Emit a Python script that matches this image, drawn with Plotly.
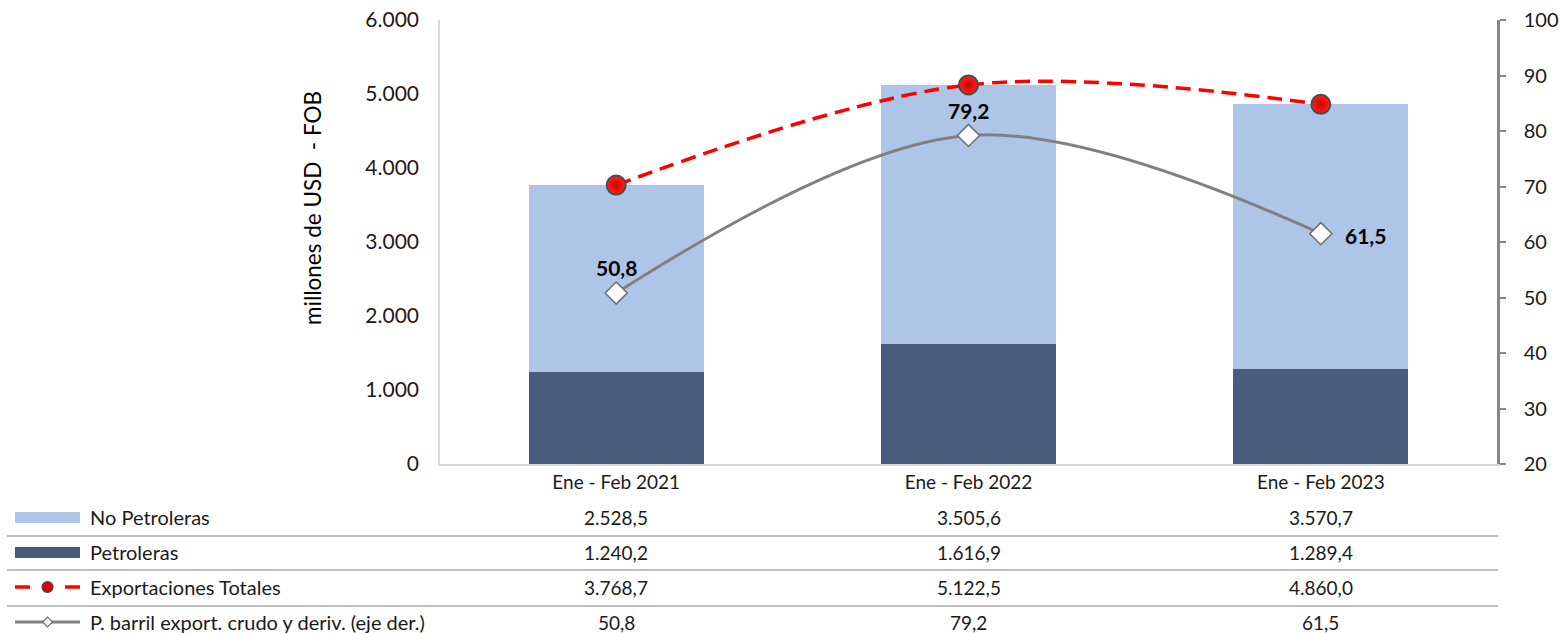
import plotly.graph_objects as go

# ---------------- data ----------------
categories = ["Ene - Feb 2021", "Ene - Feb 2022", "Ene - Feb 2023"]
no_petroleras = [2528.5, 3505.6, 3570.7]
petroleras = [1240.2, 1616.9, 1289.4]
exportaciones_totales = [3768.7, 5122.5, 4860.0]
precio_barril = [50.8, 79.2, 61.5]

series_names = ["No Petroleras", "Petroleras", "Exportaciones Totales",
                "P. barril export. crudo y deriv. (eje der.)"]
left_ticks = [0, 1000, 2000, 3000, 4000, 5000, 6000]
right_ticks = [20, 30, 40, 50, 60, 70, 80, 90, 100]

# ---------------- style ----------------
FONT = "Lato"
C_LIGHT = "#ADC6E7"
C_DARK = "#485D7B"
C_RED = "#FF0000"
C_GRAY = "#808080"
TXT = "#1a1a1a"

W, H = 1560, 633
L, R, T, B = 440, 1497, 20, 464  # plot area in pixels


def es_num(v, dec=1):
    s = f"{v:,.{dec}f}"
    return s.replace(",", "X").replace(".", ",").replace("X", ".")


def px(xp):
    return (xp - L) / (R - L)


def py(yp):
    return (B - yp) / (B - T)


fig = go.Figure()

fig.add_trace(go.Bar(x=categories, y=petroleras, name=series_names[1],
                     marker=dict(color=C_DARK, line=dict(width=0)),
                     showlegend=False, hoverinfo="skip"))
fig.add_trace(go.Bar(x=categories, y=no_petroleras, name=series_names[0],
                     marker=dict(color=C_LIGHT, line=dict(width=0)),
                     showlegend=False, hoverinfo="skip"))

fig.add_trace(go.Scatter(x=categories, y=exportaciones_totales, name=series_names[2],
                         mode="lines+markers",
                         line=dict(color=C_RED, width=3.5, dash="15px,8px",
                                   shape="spline", smoothing=1.0),
                         marker=dict(symbol="circle", size=19, color="#FF2020",
                                     gradient=dict(type="radial", color="#D00000"),
                                     line=dict(color="#4a4a4a", width=2)),
                         showlegend=False, hoverinfo="skip"))

fig.add_trace(go.Scatter(x=categories, y=precio_barril, name=series_names[3],
                         yaxis="y2", mode="lines+markers",
                         line=dict(color=C_GRAY, width=3, shape="spline", smoothing=1.0),
                         marker=dict(symbol="diamond", size=17, color="white",
                                     line=dict(color="#6e6e6e", width=1.5)),
                         showlegend=False, hoverinfo="skip"))

annotations = []
# data labels on price line
label_shift = [(0, 26), (0, 25), (45, -2)]
for i, c in enumerate(categories):
    dx, dy = label_shift[i]
    annotations.append(dict(x=c, y=precio_barril[i], xref="x", yref="y2",
                            text=f"<b>{es_num(precio_barril[i])}</b>", showarrow=False,
                            xshift=dx, yshift=dy, xanchor="center", yanchor="middle",
                            font=dict(family=FONT, size=21, color="#000000")))

# axis title
annotations.append(dict(x=px(312), y=py(208), xref="paper", yref="paper",
                        text="millones de USD  - FOB", textangle=-90, showarrow=False,
                        xanchor="center", yanchor="middle",
                        font=dict(family=FONT, size=22.5, color="#000000")))

# table
row_y = [517, 552, 587, 622]
rows = [no_petroleras, petroleras, exportaciones_totales, precio_barril]
for r, vals in enumerate(rows):
    annotations.append(dict(x=px(88), y=py(row_y[r]), xref="paper", yref="paper",
                            text=series_names[r], showarrow=False,
                            xanchor="left", yanchor="middle",
                            font=dict(family=FONT, size=20, color=TXT)))
    for i, c in enumerate(categories):
        annotations.append(dict(x=c, y=py(row_y[r]), xref="x", yref="paper",
                                text=es_num(vals[i]), showarrow=False,
                                xanchor="center", yanchor="middle",
                                font=dict(family=FONT, size=19, color=TXT)))

shapes = []
# separators
for sy in [536, 570, 606]:
    shapes.append(dict(type="line", xref="paper", yref="paper",
                       x0=px(7), x1=px(1498), y0=py(sy), y1=py(sy),
                       line=dict(color="#BFBFBF", width=2)))
# legend swatches
shapes.append(dict(type="rect", xref="paper", yref="paper", x0=px(15), x1=px(80),
                   y0=py(512), y1=py(523), fillcolor=C_LIGHT, line=dict(width=0)))
shapes.append(dict(type="rect", xref="paper", yref="paper", x0=px(15), x1=px(80),
                   y0=py(547), y1=py(558), fillcolor=C_DARK, line=dict(width=0)))
for x0, x1 in [(15, 30), (65, 80)]:
    shapes.append(dict(type="line", xref="paper", yref="paper", x0=px(x0), x1=px(x1),
                       y0=py(587), y1=py(587), line=dict(color=C_RED, width=3.5)))
shapes.append(dict(type="circle", xref="paper", yref="paper", x0=px(42), x1=px(53),
                   y0=py(581.5), y1=py(592.5), fillcolor="#E00000",
                   line=dict(color="#4a4a4a", width=1.2)))
shapes.append(dict(type="line", xref="paper", yref="paper", x0=px(15), x1=px(80),
                   y0=py(622), y1=py(622), line=dict(color=C_GRAY, width=3)))
dx0, dy0, d = 47.5, 622, 5
path = (f"M {px(dx0 - d)} {py(dy0)} L {px(dx0)} {py(dy0 - d)} "
        f"L {px(dx0 + d)} {py(dy0)} L {px(dx0)} {py(dy0 + d)} Z")
shapes.append(dict(type="path", xref="paper", yref="paper", path=path,
                   fillcolor="white", line=dict(color="#6e6e6e", width=1.2)))

fig.update_layout(
    width=W, height=H,
    margin=dict(l=L, r=W - R, t=T, b=H - B, pad=0, autoexpand=False),
    barmode="stack", bargap=0.503,
    plot_bgcolor="white", paper_bgcolor="white",
    font=dict(family=FONT, color=TXT),
    xaxis=dict(showline=True, linecolor="#D9D9D9", linewidth=1.5, ticks="",
               tickfont=dict(family=FONT, size=19, color=TXT), showgrid=False,
               zeroline=False, ticklabelstandoff=0, fixedrange=True, automargin=False),
    yaxis=dict(range=[0, 6000], tickvals=left_ticks,
               ticktext=[es_num(v, 0) for v in left_ticks],
               showline=True, linecolor="#D9D9D9", linewidth=1.5, ticks="",
               showgrid=False, zeroline=False, ticklabelstandoff=15, automargin=False,
               tickfont=dict(family=FONT, size=21, color=TXT)),
    yaxis2=dict(range=[20, 100], tickvals=right_ticks, overlaying="y", side="right",
                showline=True, linecolor="#868686", linewidth=2.5,
                ticks="outside", ticklen=6, tickwidth=2, tickcolor="#868686",
                showgrid=False, zeroline=False, ticklabelstandoff=14, automargin=False,
                tickfont=dict(family=FONT, size=20, color=TXT)),
    annotations=annotations, shapes=shapes, showlegend=False,
)

fig.write_html("out.html", config={"displayModeBar": False},
               post_script="document.body.style.margin='0';document.body.style.overflow='hidden';")
